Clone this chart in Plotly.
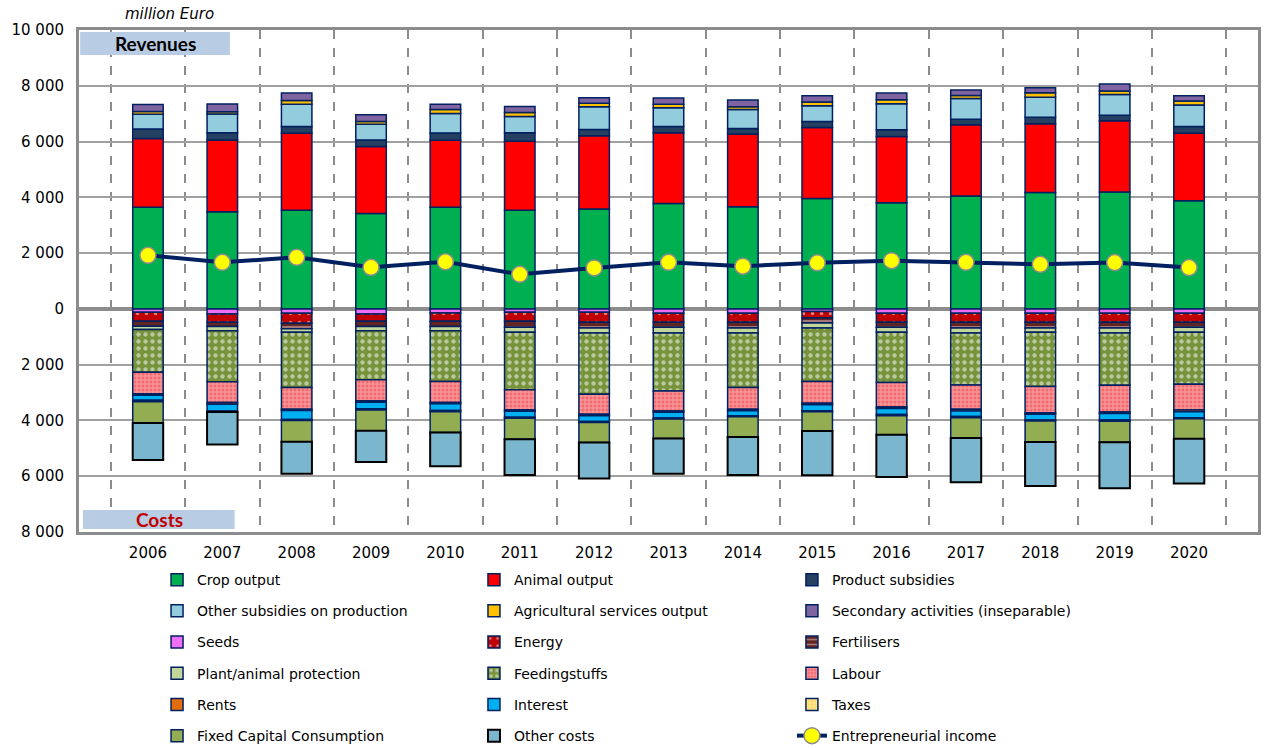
import plotly.graph_objects as go

years = [str(y) for y in range(2006, 2021)]

# Revenues (million Euro)
crop_output = [3640, 3480, 3540, 3420, 3640, 3540, 3580, 3780, 3660, 3960, 3810, 4050, 4170, 4190, 3880]
animal_output = [2470, 2580, 2760, 2400, 2410, 2470, 2630, 2540, 2610, 2540, 2370, 2550, 2470, 2560, 2420]
product_subsidies = [340, 260, 240, 240, 260, 310, 220, 220, 200, 220, 240, 200, 230, 190, 240]
other_subsidies = [525, 670, 800, 560, 700, 580, 820, 670, 680, 560, 940, 740, 720, 750, 770]
agri_services = [100, 80, 130, 100, 140, 140, 120, 130, 100, 140, 140, 110, 160, 120, 140]
secondary_act = [250, 280, 270, 240, 190, 220, 200, 220, 240, 220, 240, 200, 180, 250, 190]

# Costs (million Euro, plotted downwards)
seeds = [120, 180, 155, 180, 145, 120, 120, 155, 155, 95, 155, 155, 155, 155, 155]
energy = [320, 300, 360, 265, 300, 325, 360, 325, 325, 230, 325, 325, 325, 325, 325]
fertilisers = [180, 155, 200, 190, 190, 215, 205, 180, 205, 180, 180, 205, 205, 205, 180]
plant_protection = [120, 145, 120, 145, 145, 180, 180, 205, 180, 180, 180, 180, 155, 180, 180]
feedingstuffs = [1530, 1835, 1980, 1760, 1820, 2060, 2195, 2075, 1955, 1920, 1800, 1860, 1945, 1870, 1860]
labour = [770, 745, 780, 755, 755, 720, 720, 720, 780, 780, 875, 875, 935, 960, 925]
rents = [60, 60, 50, 50, 50, 50, 50, 50, 50, 50, 60, 60, 60, 60, 60]
interest = [180, 240, 320, 240, 240, 215, 205, 200, 180, 215, 215, 200, 200, 230, 215]
taxes = [50, 40, 40, 40, 40, 40, 40, 40, 40, 40, 40, 40, 40, 40, 40]
fixed_capital = [760, None, 755, 745, 745, 745, 720, 695, 720, 685, 685, 730, 755, 755, 720]
other_costs = [1330, 1165, 1150, 1120, 1210, 1290, 1290, 1270, 1370, 1590, 1510, 1590, 1580, 1650, 1600]

entrepreneurial_income = [1920, 1670, 1850, 1490, 1690, 1240, 1470, 1670, 1530, 1650, 1730, 1670, 1600, 1660, 1480]

y_ticks = [-8000, -6000, -4000, -2000, 0, 2000, 4000, 6000, 8000, 10000]

NAVY = "#002060"
FONT = "DejaVu Sans"

fig = go.Figure()


def add_bar(name, values, color, legend, sign=1, pattern=None, line_color=NAVY, line_width=1.5):
    marker = dict(color=color, line=dict(color=line_color, width=line_width))
    if pattern is not None:
        marker["pattern"] = pattern
    fig.add_trace(go.Bar(
        x=years,
        y=[None if v is None else sign * v for v in values],
        name=name,
        legendgroup=name,
        legend=legend,
        marker=marker,
    ))


# Order: column 1 = legend, column 2 = legend2, column 3 = legend3
add_bar("Crop output", crop_output, "#00B050", "legend")
add_bar("Animal output", animal_output, "#FF0000", "legend2")
add_bar("Product subsidies", product_subsidies, "#254061", "legend3")
add_bar("Other subsidies on production", other_subsidies, "#93CDDD", "legend")
add_bar("Agricultural services output", agri_services, "#FFC000", "legend2")
add_bar("Secondary activities (inseparable)", secondary_act, "#8064A2", "legend3")

add_bar("Seeds", seeds, "#EE6FF5", "legend", sign=-1)
add_bar("Energy", energy, "#C00000", "legend2", sign=-1,
        pattern=dict(shape=".", fgcolor="white", bgcolor="#C00000", size=9, solidity=0.12))
add_bar("Fertilisers", fertilisers, "#632523", "legend3", sign=-1,
        pattern=dict(shape="-", fgcolor="#F2DCDB", bgcolor="#632523", size=6, solidity=0.3))
add_bar("Plant/animal protection", plant_protection, "#C4D79B", "legend", sign=-1)
add_bar("Feedingstuffs", feedingstuffs, "#77933C", "legend2", sign=-1,
        pattern=dict(shape=".", fgcolor="white", bgcolor="#77933C", size=7, solidity=0.3))
add_bar("Labour", labour, "#F26A6E", "legend3", sign=-1,
        pattern=dict(shape="+", fgcolor="#FDE4E4", bgcolor="#F26A6E", size=4, solidity=0.4))
add_bar("Rents", rents, "#E46C0A", "legend", sign=-1)
add_bar("Interest", interest, "#00B0F0", "legend2", sign=-1)
add_bar("Taxes", taxes, "#FFE699", "legend3", sign=-1,
        pattern=dict(shape="+", fgcolor="#FFF8DC", bgcolor="#FFD966", size=4, solidity=0.4))
add_bar("Fixed Capital Consumption", fixed_capital, "#92AD52", "legend", sign=-1)
add_bar("Other costs", other_costs, "#7AB6CD", "legend2", sign=-1, line_color="#000000", line_width=2)

fig.add_trace(go.Scatter(
    x=years,
    y=entrepreneurial_income,
    name="Entrepreneurial income",
    legendgroup="Entrepreneurial income",
    legend="legend3",
    mode="lines+markers",
    line=dict(color=NAVY, width=4),
    marker=dict(color="#FFFF00", size=16, line=dict(color="#8C8C8C", width=1.5)),
))

legend_common = dict(
    xanchor="left", yanchor="top", orientation="v",
    traceorder="grouped", tracegroupgap=10,
    font=dict(family=FONT, size=14, color="#000000"),
    bgcolor="rgba(0,0,0,0)", itemwidth=30,
)

fig.update_layout(
    width=1266, height=748,
    margin=dict(l=79, r=8, t=30, b=216, autoexpand=False),
    paper_bgcolor="white", plot_bgcolor="white",
    barmode="relative", bargap=0.59,
    font=dict(family=FONT, size=15, color="#000000"),
    legend=dict(x=0.0662, y=-0.0638, **legend_common),
    legend2=dict(x=0.335, y=-0.0638, **legend_common),
    legend3=dict(x=0.6047, y=-0.0638, **legend_common),
    xaxis=dict(
        type="category",
        tickson="boundaries",
        automargin=False,
        showgrid=True, gridcolor="#8C8C8C", gridwidth=1.5, griddash="dash",
        showline=True, linecolor="#8C8C8C", linewidth=3, mirror=True,
        ticks="", ticklabelstandoff=5,
        tickfont=dict(family=FONT, size=15),
    ),
    yaxis=dict(
        range=[-8000, 10000],
        automargin=False,
        tickvals=y_ticks,
        ticktext=[f"{abs(v):,}".replace(",", " ") for v in y_ticks],
        showgrid=True, gridcolor="#A0A0A0", gridwidth=2,
        zeroline=True, zerolinecolor="#8C8C8C", zerolinewidth=4,
        showline=True, linecolor="#8C8C8C", linewidth=3, mirror=True,
        ticks="", ticklabelstandoff=9,
        tickfont=dict(family=FONT, size=15),
    ),
    shapes=[
        dict(type="rect", xref="paper", yref="paper", x0=0.001, x1=0.128, y0=0.950, y1=0.996,
             fillcolor="#B8CCE4", line=dict(width=0), layer="above"),
        dict(type="rect", xref="paper", yref="paper", x0=0.0034, x1=0.132, y0=0.006, y1=0.044,
             fillcolor="#B8CCE4", line=dict(width=0), layer="above"),
    ],
    annotations=[
        dict(text="<b>Revenues</b>", xref="paper", yref="paper", x=0.0645, y=0.973,
             xanchor="center", yanchor="middle",
             showarrow=False, font=dict(family="Lato", size=19, color="#000000")),
        dict(text="<b>Costs</b>", xref="paper", yref="paper", x=0.068, y=0.025,
             xanchor="center", yanchor="middle",
             showarrow=False, font=dict(family="Lato", size=19, color="#C00000")),
        dict(text="<i>million Euro</i>", xref="paper", yref="paper", x=0.077, y=1.0,
             xanchor="center", yanchor="bottom", yshift=5, showarrow=False,
             font=dict(family=FONT, size=15, color="#000000")),
    ],
)

fig.write_html("out.html", post_script="document.body.style.margin='0';",
               config={"displayModeBar": False})
